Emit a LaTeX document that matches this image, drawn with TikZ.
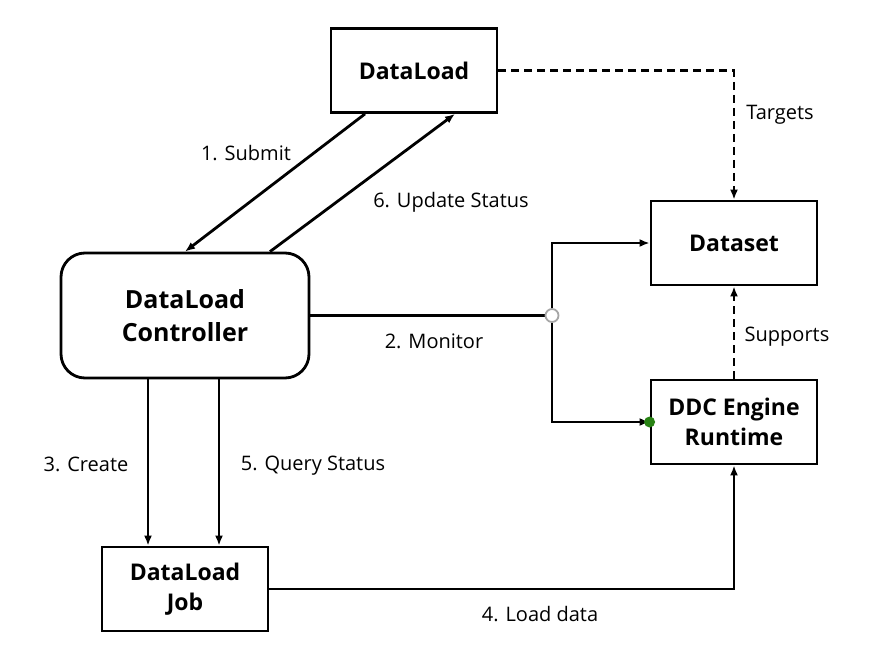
\documentclass[tikz,border=0pt]{standalone}
\usepackage{fontspec}
\setmainfont{Open Sans}
\usetikzlibrary{arrows.meta}
\definecolor{dotgreen}{RGB}{40,130,20}

\begin{document}
\begin{tikzpicture}[x=1pt, y=-1pt, line width=2.8pt,
    box/.style = {draw, minimum width=166pt, minimum height=84pt, align=center, font=\bfseries\fontsize{23}{30}\selectfont},
    lbl/.style = {font=\fontsize{20}{24}\selectfont},
    arr/.style = {-{Latex[length=10pt,width=8pt]}},
    dashline/.style = {dash pattern=on 8pt off 5pt}]
    \useasboundingbox[fill=white] (0,0) rectangle (881,672);

    \node[box] (DL) at (414,70.5) {DataLoad};
    \node[box] (DS) at (734,243) {Dataset};
    \node[box, rounded corners=24pt, minimum width=248pt, minimum height=125pt, font=\bfseries\fontsize{25}{33}\selectfont] (Ctrl) at (185,315.5) {DataLoad\\Controller};
    \node[box] (DDC) at (734,422) {DDC Engine\\Runtime};
    \node[box] (Job) at (185,589) {DataLoad\\Job};
    \coordinate (J) at (552,315.5);

    \draw[arr] ([xshift=-49pt]DL.south) -- (Ctrl.north);
    \draw[arr] ([xshift=85pt]Ctrl.north) -- ([xshift=41pt]DL.south);
    \draw[arr, dashline] (DL.east) -| (DS.north);
    \draw (Ctrl.east) -- (J);
    \draw[arr] (J) |- (DS.west);
    \draw[arr] (J) |- (DDC.west);
    \draw[arr, dashline] (DDC.north) -- (DS.south);
    \draw[arr] ([xshift=-37pt]Ctrl.south) -- ([xshift=-37pt]Ctrl.south |- Job.north);
    \draw[arr] ([xshift=34pt]Ctrl.south) -- ([xshift=34pt]Ctrl.south |- Job.north);
    \draw[arr] (Job.east) -| (DDC.south);

    \node[draw=gray!70, fill=white, line width=1.8pt, circle, inner sep=0pt, minimum size=13pt] (Jc) at (J) {};
    \fill[dotgreen] (DDC.west) circle (5.5pt);

    \node[lbl] (lSubmit) at (246,153) {1. Submit};
    \node[lbl] (lUpdate) at (451,202) {6. Update Status};
    \node[lbl] (lTargets) at (780,115) {Targets};
    \node[lbl] (lMonitor) at (434,341) {2. Monitor};
    \node[lbl] (lSupports) at (787,337) {Supports};
    \node[lbl] (lCreate) at (86,464) {3. Create};
    \node[lbl] (lQuery) at (313,466) {5. Query Status};
    \node[lbl] (lLoad) at (540,614) {4. Load data};
\end{tikzpicture}
\end{document}
